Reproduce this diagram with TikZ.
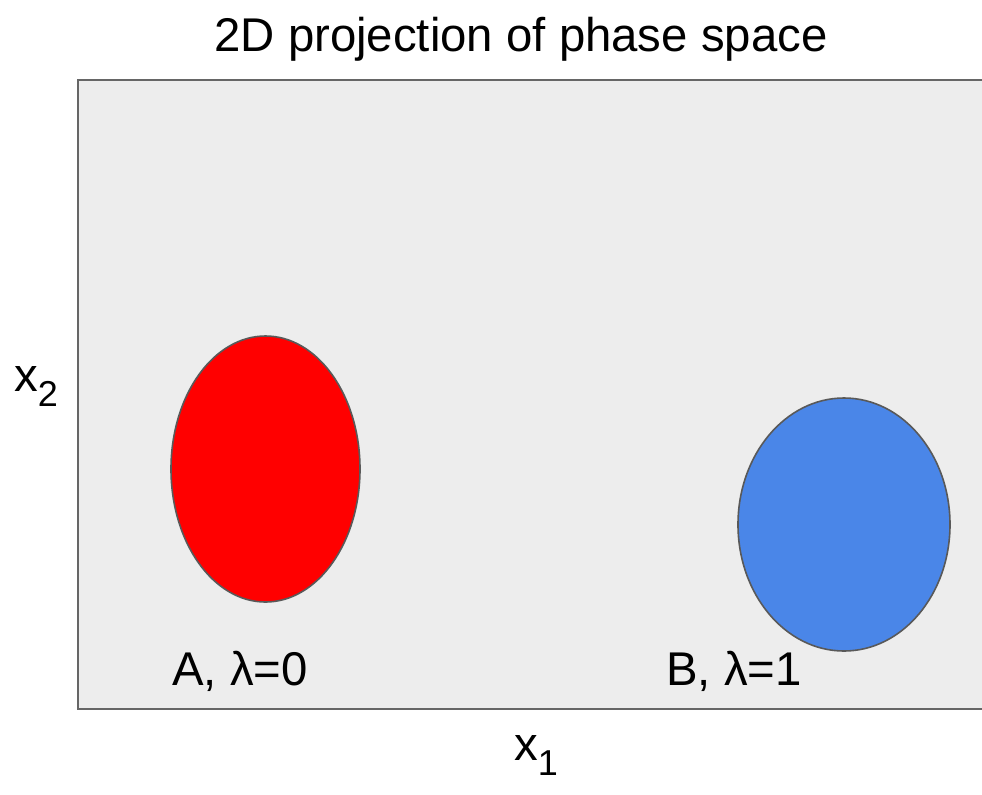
\documentclass[tikz,border=0pt]{standalone}
\usepackage{fontspec}
\setmainfont{Liberation Sans}
\usetikzlibrary{shapes.geometric}
\tikzset{
  lbl/.style={font=\fontsize{35.5}{42}\selectfont, inner sep=0pt, text=black},
  blob/.style={ellipse, draw=black!65, line width=1.2pt, inner sep=0pt},
  plane/.style={fill=black!7, draw=black!60, line width=1.5pt}
}
\newcommand{\subtxt}[2]{#1\raisebox{-0.32em}{\fontsize{27}{32}\selectfont #2}}
\begin{document}
\begin{tikzpicture}[x=0.75pt,y=-0.75pt]
\clip (0,0) rectangle (982,794);
\useasboundingbox (0,0) rectangle (982,794);
\path[plane] (78,80) rectangle (995,709);
\node[lbl, anchor=base] (title) at (521,51) {2D projection of phase space};
\node[blob, fill=red, minimum width=141.75pt, minimum height=199.5pt] (A) at (265.5,469) {};
\node[blob, fill={rgb,255:red,74;green,134;blue,232}, minimum width=159pt, minimum height=189.75pt] (B) at (844,524.5) {};
\node[lbl, anchor=base west] (la) at (172,685) {A, λ=0};
\node[lbl, anchor=base west] (lb) at (666,685) {B, λ=1};
\node[lbl, anchor=base west] (x2) at (14,391) {\subtxt{x}{2}};
\node[lbl, anchor=base west] (x1) at (514,760) {\subtxt{x}{1}};
\end{tikzpicture}
\end{document}
